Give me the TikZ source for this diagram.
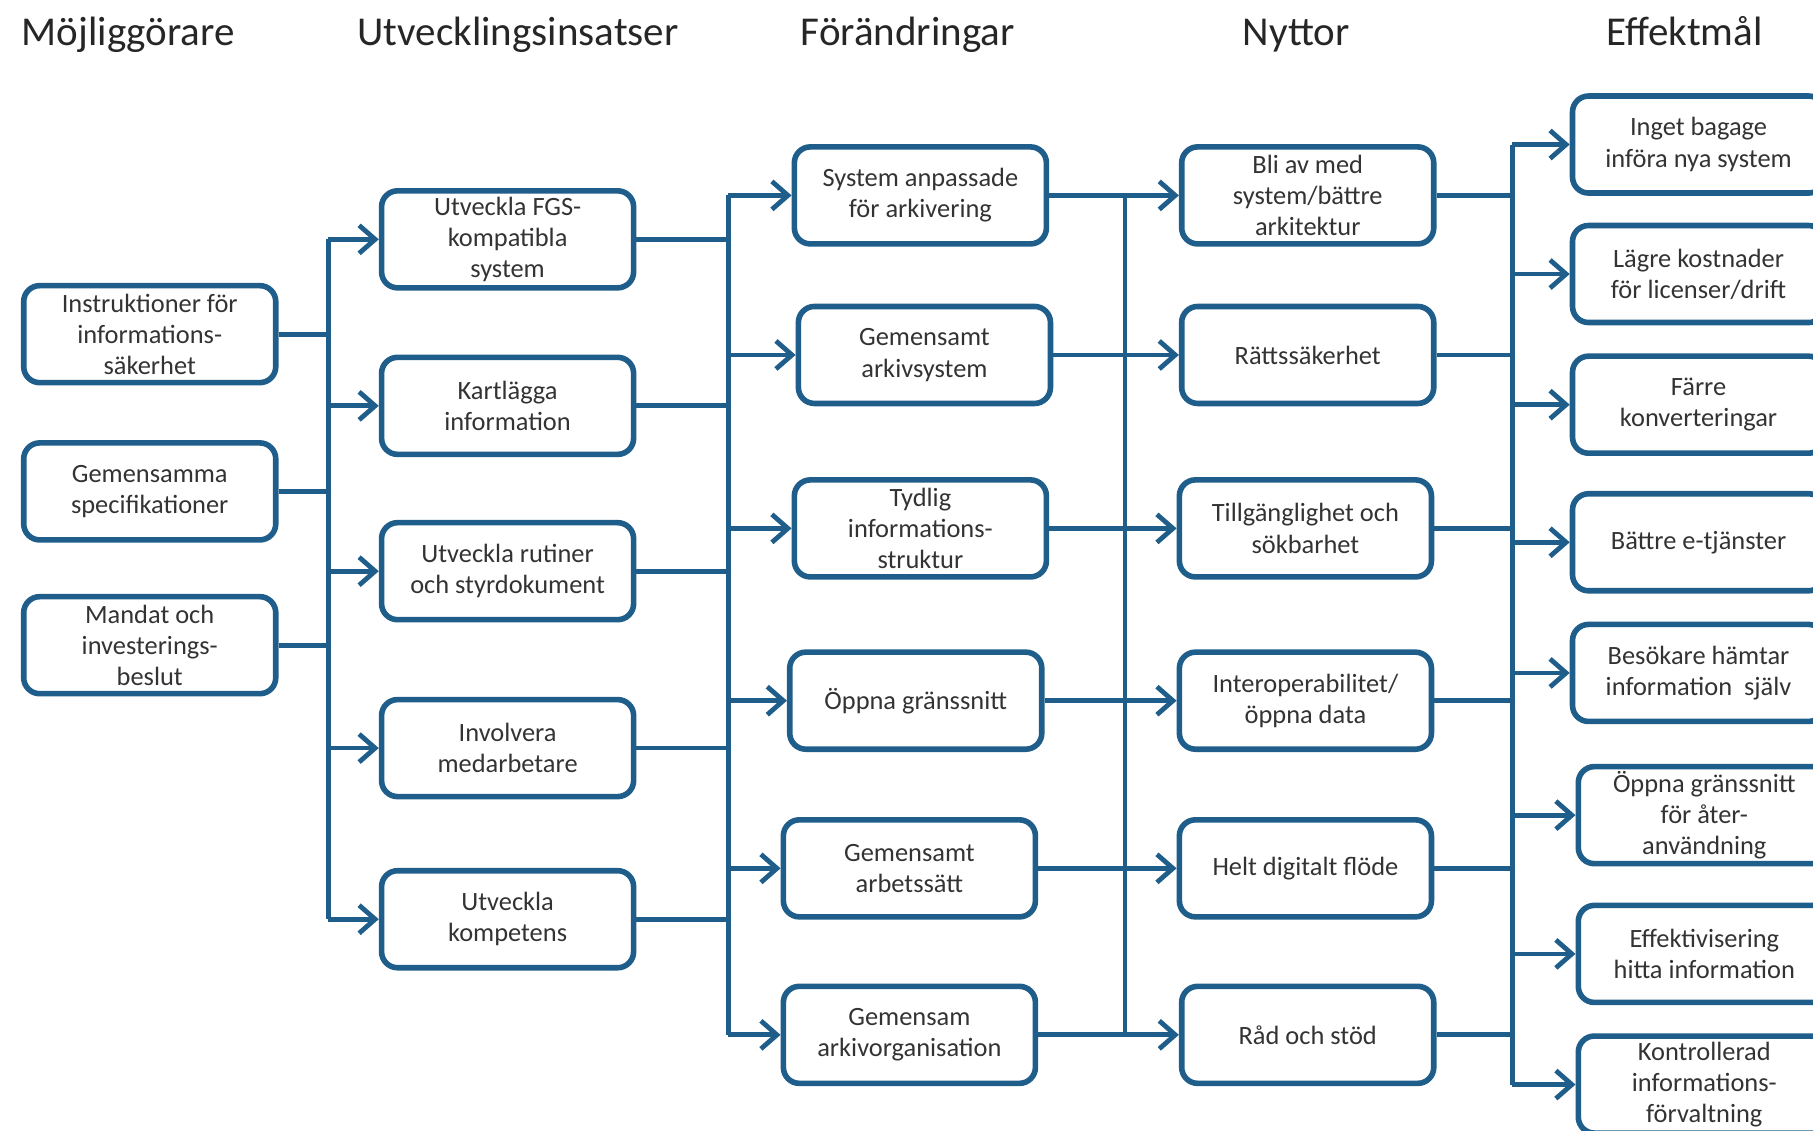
\documentclass[tikz,border=0pt]{standalone}
\usepackage{fontspec}
\setmainfont{Carlito}
\usetikzlibrary{arrows.meta}
\definecolor{bl}{HTML}{1F5E8A}
\definecolor{tx}{HTML}{333333}
\definecolor{hx}{HTML}{262626}
\begin{document}
\begin{tikzpicture}[x=0.578pt,y=-0.578pt,
 box/.style={draw=bl,line width=2.8pt,rounded corners=8pt,minimum width=126pt,minimum height=48.5pt,inner sep=1pt,align=center,font=\fontsize{13.2}{15.6}\selectfont,text=tx},
 hd/.style={font=\fontsize{20.5}{24}\selectfont,text=hx,anchor=base},
 ln/.style={draw=bl,line width=2.4pt},
 arr/.style={ln,-{Straight Barb[length=8pt,width=14pt]}},
]
\useasboundingbox (0,0) rectangle (1568,978);
\begin{scope}
\clip (0,0) rectangle (1568,978);
% headings
\node[hd] (h1) at (111,39) {Möjliggörare};
\node[hd] (h2) at (448,39) {Utvecklingsinsatser};
\node[hd] (h3) at (785,39) {Förändringar};
\node[hd] (h4) at (1121,39) {Nyttor};
\node[hd] (h5) at (1457,39) {Effektmål};
% column 1
\node[box] (m1) at (129.5,289) {Instruktioner för\\informations-\\säkerhet};
\node[box] (m2) at (129.5,425) {Gemensamma\\specifikationer};
\node[box] (m3) at (129.5,558) {Mandat och\\investerings-\\beslut};
% column 2
\node[box] (u1) at (439,207) {Utveckla FGS-\\kompatibla\\system};
\node[box] (u2) at (439,351) {Kartlägga\\information};
\node[box] (u3) at (439,494) {Utveckla rutiner\\och styrdokument};
\node[box] (u4) at (439,647) {Involvera\\medarbetare};
\node[box] (u5) at (439,795) {Utveckla\\kompetens};
% column 3
\node[box] (f1) at (796,169) {System anpassade\\för arkivering};
\node[box] (f2) at (799.5,307) {Gemensamt\\arkivsystem};
\node[box] (f3) at (796,457) {Tydlig\\informations-\\struktur};
\node[box] (f4) at (792,606) {Öppna gränssnitt};
\node[box] (f5) at (786.5,751) {Gemensamt\\arbetssätt};
\node[box] (f6) at (786.5,895) {Gemensam\\arkivorganisation};
% column 4
\node[box] (n1) at (1131,169) {Bli av med\\system/bättre\\arkitektur};
\node[box] (n2) at (1131,307) {Rättssäkerhet};
\node[box] (n3) at (1129,457) {Tillgänglighet och\\sökbarhet};
\node[box] (n4) at (1129,606) {Interoperabilitet/\\öppna data};
\node[box] (n5) at (1129,751) {Helt digitalt flöde};
\node[box] (n6) at (1131,895) {Råd och stöd};
% column 5
\node[box] (e1) at (1469,125) {Inget bagage\\införa nya system};
\node[box] (e2) at (1469,237) {Lägre kostnader\\för licenser/drift};
\node[box] (e3) at (1469,350) {Färre\\konverteringar};
\node[box] (e4) at (1469,469) {Bättre e-tjänster};
\node[box] (e5) at (1469,582) {Besökare hämtar\\information~ själv};
\node[box] (e6) at (1474,705) {Öppna gränssnitt\\för åter-\\användning};
\node[box] (e7) at (1474,825) {Effektivisering\\hitta information};
\node[box] (e8) at (1474,938) {Kontrollerad\\informations-\\förvaltning};
% bus 1
\coordinate (b1t) at (284,207);
\coordinate (b1b) at (284,795);
\draw[ln] (b1t) -- (b1b);
\foreach \m in {m1,m2,m3} \draw[ln] (\m.east) -- (\m.east -| b1t);
\foreach \u in {u1,u2,u3,u4,u5} \draw[arr] (b1t |- \u.west) -- (\u.west);
% bus 2
\coordinate (b2t) at (630,169);
\coordinate (b2b) at (630,895);
\draw[ln] (b2t) -- (b2b);
\foreach \u in {u1,u2,u3,u4,u5} \draw[ln] (\u.east) -- (\u.east -| b2t);
\foreach \f in {f1,f2,f3,f4,f5,f6} \draw[arr] (b2t |- \f.west) -- (\f.west);
% bus 3
\coordinate (b3t) at (973,169);
\coordinate (b3b) at (973,895);
\draw[ln] (b3t) -- (b3b);
\draw[arr] (f1.east) -- (n1.west);
\draw[arr] (f2.east) -- (n2.west);
\draw[arr] (f3.east) -- (n3.west);
\draw[arr] (f4.east) -- (n4.west);
\draw[arr] (f5.east) -- (n5.west);
\draw[arr] (f6.east) -- (n6.west);
% bus 4
\coordinate (b4t) at (1308,125);
\coordinate (b4b) at (1308,938);
\draw[ln] (b4t) -- (b4b);
\foreach \n in {n1,n2,n3,n4,n5,n6} \draw[ln] (\n.east) -- (\n.east -| b4t);
\foreach \e in {e1,e2,e3,e4,e5,e6,e7,e8} \draw[arr] (b4t |- \e.west) -- (\e.west);
\end{scope}
\end{tikzpicture}
\end{document}
